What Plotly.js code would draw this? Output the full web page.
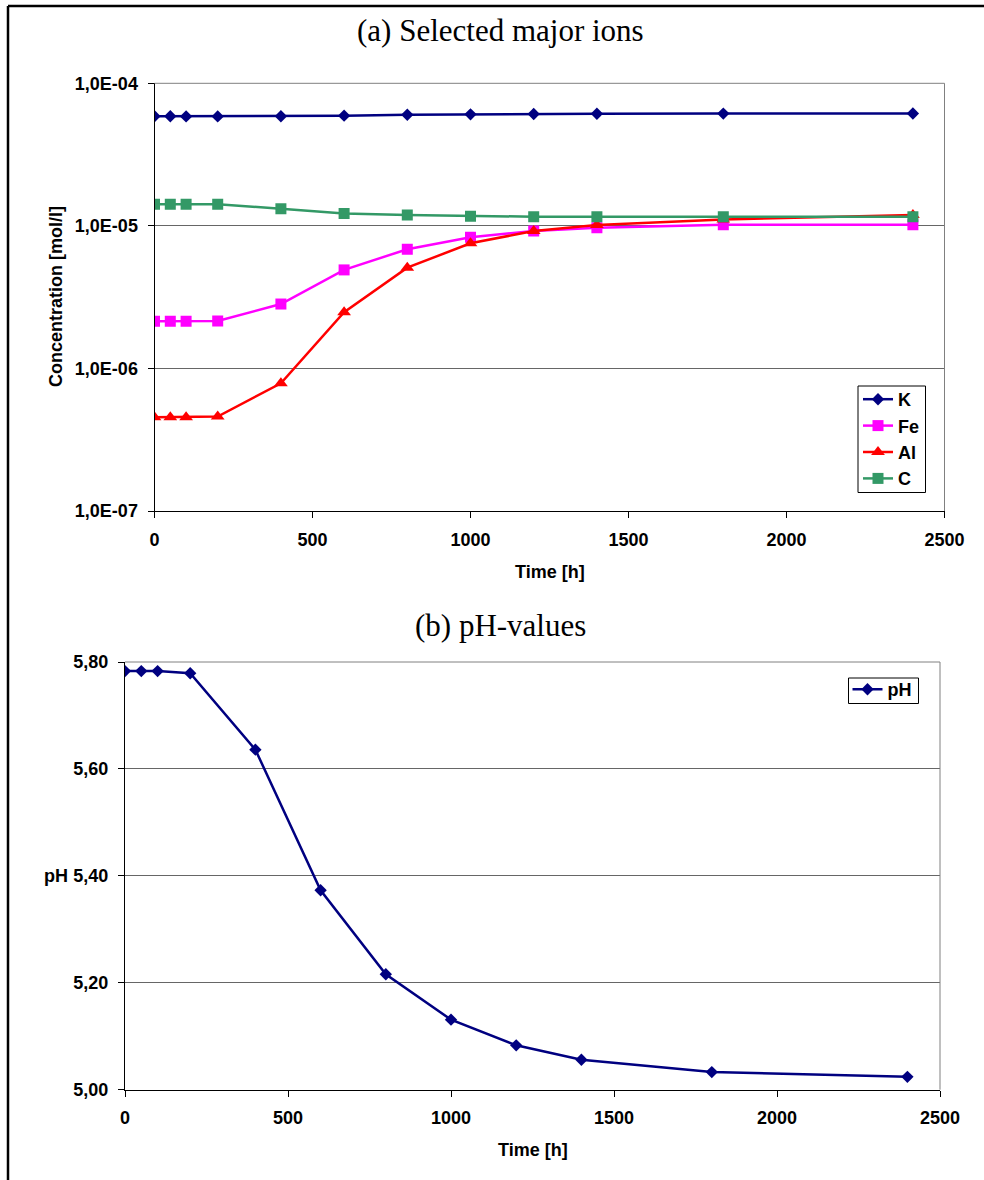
<!DOCTYPE html>
<html>
<head>
<meta charset="utf-8">
<script src="https://cdn.plot.ly/plotly-3.0.1.min.js"></script>
<style>html,body{margin:0;padding:0;background:#fff;}#chart{width:984px;height:1180px;}</style>
</head>
<body>
<div id="chart"></div>
<script>
// ---- data ----
const timeH = [0, 50, 100, 200, 400, 600, 800, 1000, 1200, 1400, 1800, 2400];
const K  = [5.87e-5, 5.87e-5, 5.86e-5, 5.86e-5, 5.87e-5, 5.93e-5, 6.02e-5, 6.06e-5, 6.09e-5, 6.11e-5, 6.13e-5, 6.14e-5];
const Fe = [2.14e-6, 2.14e-6, 2.14e-6, 2.15e-6, 2.83e-6, 4.91e-6, 6.86e-6, 8.32e-6, 9.2e-6, 9.7e-6, 1.02e-5, 1.02e-5];
const Al = [4.55e-7, 4.55e-7, 4.55e-7, 4.6e-7, 7.87e-7, 2.48e-6, 5.09e-6, 7.55e-6, 9.2e-6, 1.015e-5, 1.11e-5, 1.19e-5];
const C  = [1.42e-5, 1.42e-5, 1.42e-5, 1.42e-5, 1.32e-5, 1.22e-5, 1.19e-5, 1.17e-5, 1.16e-5, 1.16e-5, 1.16e-5, 1.16e-5];
const pH = [5.783, 5.783, 5.783, 5.779, 5.636, 5.373, 5.216, 5.131, 5.083, 5.056, 5.033, 5.024];

const xTicks = [0, 500, 1000, 1500, 2000, 2500];
const concTickVals = [1e-7, 1e-6, 1e-5, 1e-4];
const concTickText = ['1,0E-07', '1,0E-06', '1,0E-05', '1,0E-04'];
const pHTickVals = [5.0, 5.2, 5.4, 5.6, 5.8];
const pHTickText = ['5,00', '5,20', '5,40', '5,60', '5,80'];

// ---- geometry helpers (pixels -> paper) ----
const W = 984, H = 1180;
const px = v => v / W;
const py = v => 1 - v / H;

const boldFont = {family: 'Liberation Sans, Arial, sans-serif', size: 18, color: '#000', weight: 'bold'};
const serifFont = {family: 'Liberation Serif, Times New Roman, serif', size: 31, color: '#000'};

function series(name, y, color, symbol, size, lw, xa, ya, legend) {
  return {
    x: timeH, y: y, name: name, type: 'scatter', mode: 'lines+markers',
    xaxis: xa, yaxis: ya, legend: legend,
    line: {color: color, width: lw},
    marker: {color: color, symbol: symbol, size: size, line: {width: 0}}
  };
}

const data = [
  series('K',  K,  '#000080', 'diamond', 9.5, 2.5, 'x', 'y', 'legend'),
  series('Fe', Fe, '#FF00FF', 'square', 11, 2.5, 'x', 'y', 'legend'),
  series('Al', Al, '#FF0000', 'triangle-up', 12, 2.5, 'x', 'y', 'legend'),
  series('C',  C,  '#339966', 'square', 11, 2.5, 'x', 'y', 'legend'),
  series('pH', pH, '#000080', 'diamond', 9.5, 2.5, 'x2', 'y2', 'legend2')
];

const axBase = {
  ticks: 'outside', ticklen: 6, tickcolor: '#000', tickwidth: 1,
  showline: true, linecolor: '#000', linewidth: 1,
  zeroline: false, tickfont: boldFont, fixedrange: true
};

const boxA = {l: 154.5, r: 944.5, t: 83.3, b: 511};
const boxB = {l: 125, r: 940, t: 662, b: 1089.7};

const legA = {l: 858, r: 925.5, t: 386, b: 492.5};
const legB = {l: 848.5, r: 918.5, t: 678, b: 703.5};

const layout = {
  width: W, height: H,
  margin: {l: 0, r: 0, t: 0, b: 0},
  paper_bgcolor: '#fff', plot_bgcolor: '#fff',
  showlegend: true,
  xaxis: Object.assign({}, axBase, {
    domain: [px(boxA.l), px(boxA.r)], anchor: 'y', range: [0, 2500],
    tickvals: xTicks, ticktext: xTicks.map(String), showgrid: false, ticklabelstandoff: 6
  }),
  yaxis: Object.assign({}, axBase, {
    domain: [py(boxA.b), py(boxA.t)], anchor: 'x', type: 'log', range: [-7, -4],
    tickvals: concTickVals, ticktext: concTickText,
    showgrid: true, gridcolor: '#666', gridwidth: 1, ticklabelstandoff: 6
  }),
  xaxis2: Object.assign({}, axBase, {
    domain: [px(boxB.l), px(boxB.r)], anchor: 'y2', range: [0, 2500],
    tickvals: xTicks, ticktext: xTicks.map(String), showgrid: false, ticklabelstandoff: 6
  }),
  yaxis2: Object.assign({}, axBase, {
    domain: [py(boxB.b), py(boxB.t)], anchor: 'x2', range: [5.0, 5.8],
    tickvals: pHTickVals, ticktext: pHTickText,
    showgrid: true, gridcolor: '#666', gridwidth: 1, ticklabelstandoff: 6
  }),
  legend: {
    x: px(legA.l), y: py(legA.t - 5), xanchor: 'left', yanchor: 'top',
    bgcolor: 'rgba(255,255,255,0)', borderwidth: 0,
    font: boldFont, itemwidth: 30, tracegroupgap: 0
  },
  legend2: {
    x: px(legB.l - 1), y: py(legB.t - 7), xanchor: 'left', yanchor: 'top',
    bgcolor: 'rgba(255,255,255,0)', borderwidth: 0,
    font: boldFont, itemwidth: 30
  },
  shapes: [
    {type: 'line', xref: 'x domain', yref: 'y domain', x0: 0, x1: 1, y0: 1, y1: 1, line: {color: '#808080', width: 1}},
    {type: 'line', xref: 'x domain', yref: 'y domain', x0: 1, x1: 1, y0: 0, y1: 1, line: {color: '#808080', width: 1}},
    {type: 'line', xref: 'x2 domain', yref: 'y2 domain', x0: 0, x1: 1, y0: 1, y1: 1, line: {color: '#808080', width: 1}},
    {type: 'line', xref: 'x2 domain', yref: 'y2 domain', x0: 1, x1: 1, y0: 0, y1: 1, line: {color: '#808080', width: 1}},
    // legend boxes
    {type: 'rect', xref: 'paper', yref: 'paper', layer: 'above', x0: px(legA.l), x1: px(legA.r), y0: py(legA.b), y1: py(legA.t),
     line: {color: '#000', width: 1}, fillcolor: '#fff'},
    {type: 'rect', xref: 'paper', yref: 'paper', layer: 'above', x0: px(legB.l), x1: px(legB.r), y0: py(legB.b), y1: py(legB.t),
     line: {color: '#000', width: 1}, fillcolor: '#fff'},
    // outer frame (left and top)
    {type: 'line', xref: 'paper', yref: 'paper', x0: px(8), x1: px(8), y0: 0, y1: py(6), line: {color: '#000', width: 2.5}},
    {type: 'line', xref: 'paper', yref: 'paper', x0: px(8), x1: 1, y0: py(6), y1: py(6), line: {color: '#000', width: 2.5}}
  ],
  annotations: [
    {text: '(a) Selected major ions', xref: 'paper', yref: 'paper', x: px(500), y: py(31),
     xanchor: 'center', yanchor: 'middle', showarrow: false, font: serifFont},
    {text: '(b) pH-values', xref: 'paper', yref: 'paper', x: px(500), y: py(625),
     xanchor: 'center', yanchor: 'middle', showarrow: false, font: serifFont},
    {text: 'Concentration [mol/l]', xref: 'paper', yref: 'paper', x: px(56), y: py(297),
     xanchor: 'center', yanchor: 'middle', textangle: -90, showarrow: false, font: boldFont},
    {text: 'Time [h]', xref: 'paper', yref: 'paper', x: px((boxA.l + boxA.r) / 2), y: py(572),
     xanchor: 'center', yanchor: 'middle', showarrow: false, font: boldFont},
    {text: 'Time [h]', xref: 'paper', yref: 'paper', x: px((boxB.l + boxB.r) / 2), y: py(1150),
     xanchor: 'center', yanchor: 'middle', showarrow: false, font: boldFont},
    {text: 'pH', xref: 'paper', yref: 'y2', x: px(56), y: 5.4,
     xanchor: 'center', yanchor: 'middle', showarrow: false, font: boldFont}
  ]
};

Plotly.newPlot('chart', data, layout, {staticPlot: true, displayModeBar: false});
</script>
</body>
</html>
